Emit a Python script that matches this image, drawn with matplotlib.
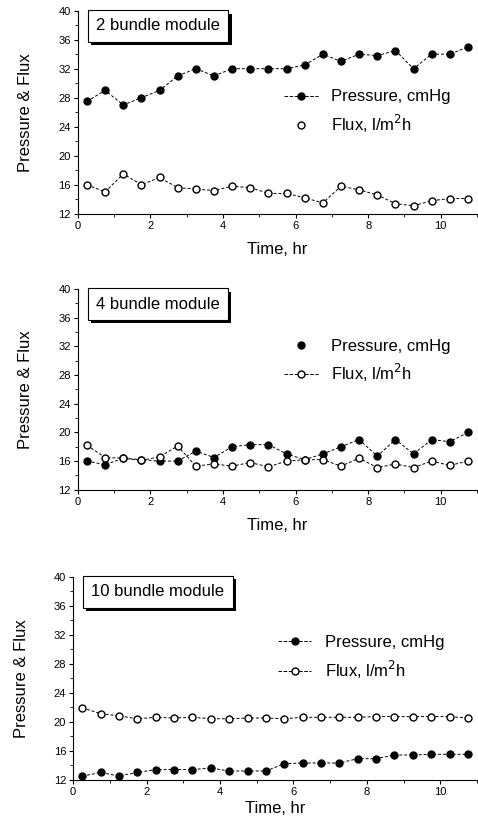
import matplotlib
matplotlib.use('Agg')
import matplotlib.pyplot as plt
import matplotlib.patheffects as pe
from matplotlib.lines import Line2D
from matplotlib.ticker import MultipleLocator

plt.rcParams['font.family'] = ['Liberation Sans', 'DejaVu Sans']

# time points (hr)
time = [0.25, 0.75, 1.25, 1.75, 2.25, 2.75, 3.25, 3.75, 4.25, 4.75, 5.25,
        5.75, 6.25, 6.75, 7.25, 7.75, 8.25, 8.75, 9.25, 9.75, 10.25, 10.75]

# 2 bundle module
p2 = [27.5, 29, 27, 28, 29, 31, 32, 31, 32, 32, 32,
      32, 32.5, 34, 33, 34, 33.8, 34.5, 32, 34, 34, 35]
f2 = [16, 15, 17.5, 16, 17, 15.6, 15.4, 15.2, 15.8, 15.6, 14.8,
      14.8, 14.2, 13.5, 15.8, 15.3, 14.6, 13.4, 13.1, 13.8, 14.1, 14.1]

# 4 bundle module
p4 = [16, 15.5, 16.4, 16.2, 16, 16, 17.4, 16.5, 18, 18.3, 18.3,
      17, 16.2, 17, 18, 19, 16.7, 19, 17, 19, 18.7, 20]
f4 = [18.2, 16.5, 16.4, 16.1, 16.6, 18.1, 15.3, 15.6, 15.3, 15.8, 15.2,
      16, 16.2, 16.2, 15.3, 16.4, 15.1, 15.6, 15.1, 16, 15.4, 16]

# 10 bundle module
p10 = [12.5, 13, 12.5, 13, 13.4, 13.4, 13.4, 13.6, 13.2, 13.2, 13.2,
       14.2, 14.3, 14.3, 14.3, 14.9, 14.9, 15.4, 15.4, 15.5, 15.5, 15.5]
f10 = [21.9, 21.1, 20.8, 20.4, 20.6, 20.5, 20.6, 20.4, 20.4, 20.5, 20.5,
       20.4, 20.6, 20.6, 20.6, 20.6, 20.7, 20.7, 20.7, 20.7, 20.7, 20.5]

titles = ['2 bundle module', '4 bundle module', '10 bundle module']
pressures = [p2, p4, p10]
fluxes = [f2, f4, f10]
labels = ['Pressure, cmHg', 'Flux, l/m$^2$h']

# axes rectangles in figure fractions
rects = [[0.163, 0.739, 0.835, 0.248],
         [0.163, 0.402, 0.835, 0.245],
         [0.153, 0.048, 0.845, 0.248]]
leg_pos = [(0.48, 0.50), (0.48, 0.64), (0.47, 0.60)]
# legend handle line styles (pressure, flux) per panel
leg_ls = [('--', 'none'), ('none', '--'), ('--', '--')]
xpad = [8, 8, 3]

fig = plt.figure(figsize=(4.78, 8.19), dpi=100)
dash = (0, (3, 2))

for k in range(3):
    ax = fig.add_axes(rects[k])
    ax.plot(time, pressures[k], ls=dash, lw=0.7, color='k',
            marker='o', ms=5, mfc='k', mec='k')
    ax.plot(time, fluxes[k], ls=dash, lw=0.7, color='k',
            marker='o', ms=5, mfc='white', mec='k')
    ax.set_xlim(0, 11)
    ax.set_ylim(12, 40)
    ax.xaxis.set_major_locator(MultipleLocator(2))
    ax.xaxis.set_minor_locator(MultipleLocator(1))
    ax.yaxis.set_major_locator(MultipleLocator(4))
    ax.yaxis.set_minor_locator(MultipleLocator(2))
    ax.spines['top'].set_visible(False)
    ax.spines['right'].set_visible(False)
    ax.tick_params(which='major', length=3, width=0.8, labelsize=8, pad=2)
    ax.tick_params(which='minor', length=2, width=0.6)
    ax.set_xlabel('Time, hr', fontsize=12, labelpad=xpad[k])
    ax.set_ylabel('Pressure & Flux', fontsize=12, labelpad=18)

    t = ax.text(0.045, 0.925, titles[k], transform=ax.transAxes, fontsize=12,
                ha='left', va='center',
                bbox=dict(boxstyle='square,pad=0.5', fc='white', ec='k', lw=0.8))
    t.get_bbox_patch().set_path_effects(
        [pe.SimplePatchShadow(offset=(2.5, -2.5), shadow_rgbFace='k', alpha=1),
         pe.Normal()])

    handles = [Line2D([], [], ls=leg_ls[k][0], lw=0.7, color='k', marker='o',
                      ms=5, mfc='k', mec='k'),
               Line2D([], [], ls=leg_ls[k][1], lw=0.7, color='k', marker='o',
                      ms=5, mfc='white', mec='k')]
    ax.legend(handles, labels, loc='center left', bbox_to_anchor=leg_pos[k],
              frameon=False, fontsize=12, handlelength=2.0, handletextpad=0.8,
              labelspacing=0.5)

fig.savefig('out.png', dpi=100)
